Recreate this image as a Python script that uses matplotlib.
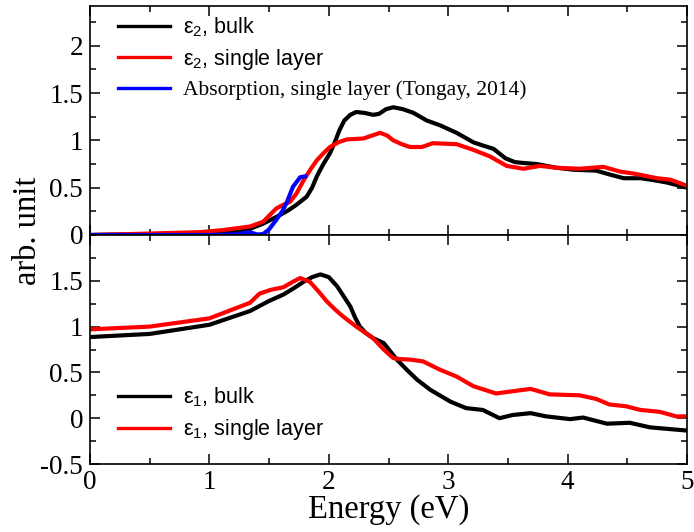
import matplotlib
matplotlib.use("Agg")
import matplotlib.pyplot as plt
from matplotlib.ticker import MultipleLocator, FuncFormatter

plt.rcParams['font.family'] = ['Liberation Serif', 'DejaVu Serif']
plt.rcParams['mathtext.fontset'] = 'custom'
plt.rcParams['mathtext.rm'] = 'Liberation Serif'
plt.rcParams['axes.unicode_minus'] = False

# ---- data: eps2 (top panel) ----
e2_bulk_x = [0, 0.5, 1.0, 1.2, 1.31, 1.45, 1.59, 1.66, 1.73, 1.815, 1.86, 1.90, 1.95, 2.01,
             2.05, 2.09, 2.13, 2.18, 2.23, 2.30, 2.37, 2.42, 2.48, 2.54, 2.62, 2.71, 2.82,
             2.93, 3.07, 3.21, 3.28, 3.38, 3.48, 3.56, 3.64, 3.74, 3.91, 4.05, 4.24, 4.35,
             4.47, 4.61, 4.72, 4.83, 5.0]
e2_bulk_y = [0, 0.01, 0.02, 0.03, 0.05, 0.12, 0.21, 0.26, 0.32, 0.405, 0.50, 0.62, 0.74, 0.865,
             0.98, 1.11, 1.21, 1.27, 1.30, 1.29, 1.27, 1.28, 1.33, 1.35, 1.33, 1.29, 1.21,
             1.16, 1.08, 0.98, 0.95, 0.91, 0.81, 0.77, 0.76, 0.75, 0.71, 0.69, 0.68, 0.64,
             0.60, 0.60, 0.58, 0.555, 0.50]

e2_single_x = [0, 0.5, 0.92, 1.1, 1.34, 1.45, 1.56, 1.62, 1.675, 1.73, 1.79, 1.85, 1.90, 1.96,
               2.01, 2.08, 2.15, 2.29, 2.36, 2.43, 2.49, 2.54, 2.61, 2.68, 2.78, 2.87, 3.07,
               3.21, 3.35, 3.49, 3.63, 3.77, 3.91, 4.10, 4.30, 4.44, 4.55, 4.75, 4.86, 5.0]
e2_single_y = [0, 0.015, 0.03, 0.05, 0.09, 0.14, 0.28, 0.32, 0.35, 0.44, 0.58, 0.70, 0.79, 0.87,
               0.93, 0.98, 1.01, 1.02, 1.05, 1.08, 1.05, 1.00, 0.96, 0.93, 0.93, 0.97, 0.96,
               0.90, 0.83, 0.73, 0.70, 0.73, 0.71, 0.70, 0.72, 0.67, 0.65, 0.60, 0.585, 0.52]

absorb_x = [0, 0.5, 1.0, 1.2, 1.30, 1.34, 1.40, 1.45, 1.50, 1.56, 1.61, 1.65, 1.70, 1.76, 1.80]
absorb_y = [0, 0.0, 0.0, 0.005, 0.02, 0.03, 0.005, 0.01, 0.06, 0.16, 0.25, 0.35, 0.51, 0.61, 0.62]

# ---- data: eps1 (bottom panel) ----
e1_bulk_x = [0, 0.5, 1.0, 1.34, 1.5, 1.62, 1.72, 1.79, 1.86, 1.93, 2.0, 2.07, 2.12, 2.18, 2.22,
             2.26, 2.31, 2.37, 2.46, 2.57, 2.66, 2.74, 2.85, 3.02, 3.15, 3.29, 3.43, 3.54,
             3.69, 3.82, 4.02, 4.13, 4.33, 4.52, 4.69, 5.0]
e1_bulk_y = [0.886, 0.92, 1.02, 1.17, 1.28, 1.35, 1.43, 1.49, 1.54, 1.57, 1.54, 1.44, 1.34, 1.22,
             1.10, 1.0, 0.93, 0.875, 0.82, 0.64, 0.52, 0.42, 0.31, 0.18, 0.11, 0.09, 0.0, 0.035,
             0.055, 0.02, -0.01, 0.007, -0.06, -0.05, -0.10, -0.135]

e1_single_x = [0, 0.5, 1.0, 1.34, 1.42, 1.51, 1.62, 1.70, 1.76, 1.84, 1.91, 1.98, 2.05, 2.12,
               2.23, 2.37, 2.46, 2.54, 2.60, 2.68, 2.79, 2.93, 3.07, 3.21, 3.40, 3.69, 3.85,
               4.10, 4.24, 4.35, 4.49, 4.61, 4.77, 4.91, 5.0]
e1_single_y = [0.97, 1.0, 1.09, 1.26, 1.36, 1.40, 1.43, 1.49, 1.53, 1.49, 1.39, 1.28, 1.19, 1.11,
               1.0, 0.875, 0.75, 0.656, 0.645, 0.64, 0.62, 0.53, 0.455, 0.35, 0.27, 0.32, 0.26,
               0.25, 0.21, 0.15, 0.13, 0.09, 0.07, 0.02, 0.02]

top_labels = [r'$\mathregular{ε_2}$, bulk', r'$\mathregular{ε_2}$, single layer',
              'Absorption, single layer (Tongay, 2014)']
bot_labels = [r'$\mathregular{ε_1}$, bulk', r'$\mathregular{ε_1}$, single layer']
x_ticks = [0, 1, 2, 3, 4, 5]

W, H = 694, 532
fig = plt.figure(figsize=(W / 100, H / 100), dpi=100)
L, R = 90 / W, 687 / W
ax1 = fig.add_axes([L, 1 - 235 / H, R - L, 229 / H])
ax2 = fig.add_axes([L, 1 - 464 / H, R - L, 229 / H])

lw = 3.0
ax1.plot(e2_bulk_x, e2_bulk_y, color='black', lw=lw, label=top_labels[0])
ax1.plot(e2_single_x, e2_single_y, color='#ff0000', lw=lw, label=top_labels[1])
ax1.plot(absorb_x, absorb_y, color='#0000ff', lw=lw, label=top_labels[2])
ax2.plot(e1_bulk_x, e1_bulk_y, color='black', lw=lw, label=bot_labels[0])
ax2.plot(e1_single_x, e1_single_y, color='#ff0000', lw=lw, label=bot_labels[1])

fmt = FuncFormatter(lambda v, p: ('%g' % v))
for ax in (ax1, ax2):
    ax.set_xlim(0, 5)
    ax.xaxis.set_major_locator(MultipleLocator(1))
    ax.xaxis.set_minor_locator(MultipleLocator(0.5))
    ax.yaxis.set_minor_locator(MultipleLocator(0.25))
    ax.tick_params(which='both', direction='in', top=True, right=True, width=1.1,
                   labelsize=19.5)
    ax.tick_params(which='major', length=7)
    ax.tick_params(which='minor', length=4)
    ax.tick_params(axis='y', pad=5)
    ax.tick_params(axis='x', pad=4)
    for s in ax.spines.values():
        s.set_linewidth(1.2)
    ax.yaxis.set_major_formatter(fmt)
    ax.xaxis.set_major_formatter(fmt)

ax1.set_ylim(0, 2.42)
ax1.set_yticks([0, 0.5, 1, 1.5, 2])
ax1.tick_params(axis='x', labelbottom=False)
ax2.set_ylim(-0.5, 2.0)
ax2.set_yticks([-0.5, 0, 0.5, 1, 1.5])
ax2.set_xticks(x_ticks)

leg_kw = dict(frameon=False, loc='upper left', prop={'family': 'Liberation Sans', 'size': 15.5},
              handlelength=2.4, handletextpad=0.6, borderaxespad=0, borderpad=0,
              labelspacing=0.38)
leg1 = ax1.legend(bbox_to_anchor=(0.047, 0.96), **leg_kw)
leg1.get_texts()[2].set_fontfamily('Liberation Serif')
for h in leg1.get_lines():
    h.set_linewidth(2.4)
leg2 = ax2.legend(bbox_to_anchor=(0.047, 0.342), **leg_kw)
for h in leg2.get_lines():
    h.set_linewidth(2.4)

fig.text(389 / W, 1 - 510 / H, 'Energy (eV)', ha='center', va='center', fontsize=23.5)
fig.text(28 / W, 1 - 231 / H, 'arb. unit', ha='center', va='center', rotation=90,
         fontsize=23.5)

fig.savefig('out.png', dpi=100)
